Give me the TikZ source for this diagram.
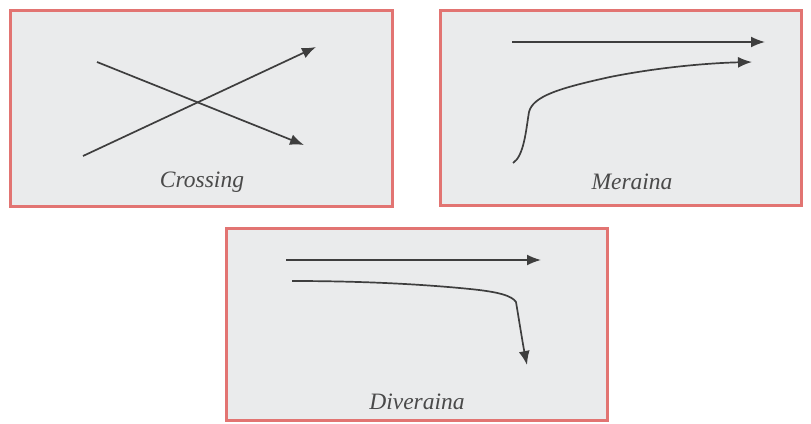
\documentclass[tikz,border=0pt]{standalone}
\usepackage{fontspec}
\setmainfont{Liberation Serif}
\usetikzlibrary{arrows.meta}
\definecolor{boxred}{HTML}{E27472}
\definecolor{boxfill}{HTML}{EAEBEC}
\definecolor{ink}{HTML}{3E3E3E}
\definecolor{txt}{HTML}{4A4A4A}
\begin{document}
\begin{tikzpicture}[x=1pt,y=-1pt,
  panel/.style={draw=boxred,line width=3pt,fill=boxfill},
  flow/.style={draw=ink,line width=1.7pt,-{Latex[length=14pt,width=11pt]}},
  caption/.style={font=\itshape\fontsize{23.5}{26}\selectfont,text=txt,inner sep=0pt}]
\useasboundingbox (0,0) rectangle (811,423);
% panels
\path[panel] (10,10) rectangle (392,206);
\path[panel] (440,10) rectangle (801,205);
\path[panel] (226,228) rectangle (607,420);
% Crossing
\coordinate (ca1) at (83,156); \coordinate (ca2) at (316,47);
\coordinate (cb1) at (97,62);  \coordinate (cb2) at (304,145);
\draw[flow] (ca1) -- (ca2);
\draw[flow] (cb1) -- (cb2);
\node[caption] (lc) at (202,182) {Crossing};
% Meraina
\coordinate (ma1) at (512,42); \coordinate (ma2) at (765,42);
\draw[flow] (ma1) -- (ma2);
\coordinate (mb1) at (513,163); \coordinate (mb2) at (752,62);
\draw[flow] (mb1) .. controls (524,156) and (526,130) .. (529,112)
  .. controls (533,96) and (560,88) .. (610,77)
  .. controls (660,67) and (710,63) .. (mb2);
\node[caption] (lm) at (632,182) {Meraina};
% Diveraina
\coordinate (da1) at (286,260); \coordinate (da2) at (541,260);
\draw[flow] (da1) -- (da2);
\coordinate (db1) at (292,281); \coordinate (db2) at (527,365);
\draw[flow] (db1) .. controls (360,281) and (420,284) .. (470,289)
  .. controls (500,292) and (512,296) .. (516,302)
  .. controls (519,320) and (523,345) .. (db2);
\node[caption] (ld) at (417,402) {Diveraina};
\end{tikzpicture}
\end{document}
